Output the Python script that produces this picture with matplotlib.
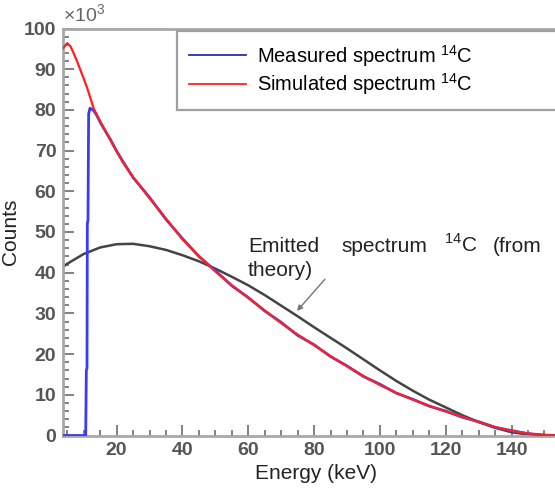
import matplotlib
matplotlib.use("Agg")
import matplotlib.pyplot as plt
from matplotlib.ticker import MultipleLocator

plt.rcParams['font.family'] = ['Liberation Sans', 'DejaVu Sans']
plt.rcParams['mathtext.fontset'] = 'custom'
plt.rcParams['mathtext.rm'] = 'Liberation Sans'

# simulated spectrum (red), counts in 10^3
energy_sim = [3.8, 5, 6, 7, 8, 9, 10, 11, 12, 13, 14, 15, 16, 18, 20, 22, 25, 30, 35, 40,
              45, 50, 55, 60, 65, 70, 75, 80, 85, 90, 95, 100, 105, 110, 115, 120, 125,
              130, 135, 140, 145, 150, 153.5]
counts_sim = [95.2, 96.4, 95.6, 93.8, 91.9, 89.8, 87.7, 85.5, 83.0, 80.4, 78.8, 77.2, 75.7,
              72.7, 69.8, 67.0, 63.5, 58.3, 53.3, 48.2, 44.1, 40.3, 36.9, 33.8, 30.7, 27.6,
              24.8, 22.2, 19.5, 17.0, 14.6, 12.4, 10.5, 8.8, 7.3, 5.9, 4.6, 3.3, 2.1, 1.15,
              0.5, 0.12, 0.0]

# measured spectrum (blue)
energy_meas = [3.8, 10.6, 10.8, 11.0, 11.1, 11.3, 11.5, 11.9, 13, 14, 15, 16, 18, 20, 22,
               25, 30, 35, 40, 45, 50, 55, 60, 65, 70, 75, 80, 85, 90, 95, 100, 105, 110,
               115, 120, 125, 130, 135, 140, 145, 150, 153.5]
counts_meas = [0, 0, 16, 16.5, 52, 53, 79, 80.4, 79.9, 78.6, 77.0, 75.6, 72.9, 69.9, 67.2,
               63.4, 58.5, 53.1, 48.4, 44.0, 40.5, 36.8, 33.9, 30.6, 27.8, 24.6, 22.3, 19.4,
               17.1, 14.5, 12.6, 10.4, 8.9, 7.2, 6.0, 4.5, 3.4, 2.0, 1.2, 0.45, 0.1, 0.0]

# emitted spectrum from theory (black)
energy_theory = [3.8, 5, 10, 15, 20, 25, 30, 35, 40, 45, 50, 55, 60, 65, 70, 75, 80, 85,
                 90, 95, 100, 105, 110, 115, 120, 125, 130, 135, 140, 145, 150, 153.5]
counts_theory = [41.5, 42.2, 44.6, 46.2, 47.0, 47.1, 46.5, 45.6, 44.3, 42.8, 41.0, 39.0,
                 36.9, 34.5, 31.9, 29.3, 26.6, 24.0, 21.4, 18.7, 16.0, 13.4, 11.0, 8.8,
                 6.9, 5.0, 3.3, 1.9, 0.8, 0.25, 0.02, 0.0]

W, H = 555, 488
fig = plt.figure(figsize=(W / 100, H / 100), dpi=100)
ax = fig.add_axes([63.3 / W, 1 - 435.5 / H, 1 - 63.3 / W, (435.5 - 28.5) / H])

ax.plot(energy_theory, counts_theory, color='#444444', lw=1.8, zorder=2)
ax.plot(energy_meas, counts_meas, color='#3b3bf5', lw=2.0, zorder=3,
        label=r'Measured spectrum $^{14}$C')
ax.plot(energy_sim, counts_sim, color='#ff2020', lw=1.6, zorder=4,
        label=r'Simulated spectrum $^{14}$C')

ax.set_xlim(3.8, 153.2)
ax.set_ylim(0, 100)

ax.xaxis.set_major_locator(MultipleLocator(20))
ax.xaxis.set_minor_locator(MultipleLocator(5))
ax.yaxis.set_major_locator(MultipleLocator(10))
ax.yaxis.set_minor_locator(MultipleLocator(2))
ax.set_xticks([20, 40, 60, 80, 100, 120, 140])

ax.tick_params(which='both', direction='in', color='#777777', width=1.3,
               top=False, right=False)
ax.tick_params(which='major', length=8, labelsize=14, labelcolor='#555555', pad=5)
ax.tick_params(which='minor', length=4.5)
for lab in ax.get_xticklabels() + ax.get_yticklabels():
    lab.set_fontweight('bold')

for s in ['left', 'bottom', 'top']:
    ax.spines[s].set_color('#a8a8a8')
    ax.spines[s].set_linewidth(2)
ax.spines['right'].set_visible(False)

ax.set_xlabel('Energy (keV)', fontsize=15, color='#222222')
ax.set_ylabel('Counts', fontsize=15, color='#222222')
ax.xaxis.set_label_coords((316 - 63.3) / 491.7, -0.07)
ax.yaxis.set_label_coords((20 - 63.3) / 491.7, 0.5)

fig.text(63 / W, 1 - 22 / H, r'$\times$10$^3$', fontsize=14, color='#666666')

leg = ax.legend(loc='upper left', bbox_to_anchor=(114 / 492, 0.995, 0.80, 0.0),
                mode='expand', fontsize=14.5, handlelength=2.8, handletextpad=0.55,
                borderpad=0.6, labelspacing=0.15, fancybox=False, framealpha=1,
                edgecolor='#a0a0a0', borderaxespad=0)
leg.get_frame().set_linewidth(1.6)
for ln in leg.get_lines():
    ln.set_linewidth(1.3)
leg.get_lines()[0].set_color('#2a2ab0')

ax.annotate('', xy=(74.8, 30.6), xytext=(83.3, 38.4),
            arrowprops=dict(arrowstyle='-|>', color='#777777', lw=1.0,
                            mutation_scale=8, shrinkA=0, shrinkB=0))
fig.text(248 / W, 1 - 252 / H, 'Emitted', fontsize=15, color='#222222')
fig.text(341 / W, 1 - 252 / H, 'spectrum', fontsize=15, color='#222222')
fig.text(444 / W, 1 - 252 / H, r'$^{14}$C', fontsize=15, color='#222222')
fig.text(542 / W, 1 - 252 / H, '(from', fontsize=15, color='#222222', ha='right')
fig.text(248 / W, 1 - 276 / H, 'theory)', fontsize=15, color='#222222')

fig.savefig('out.png', dpi=100)
